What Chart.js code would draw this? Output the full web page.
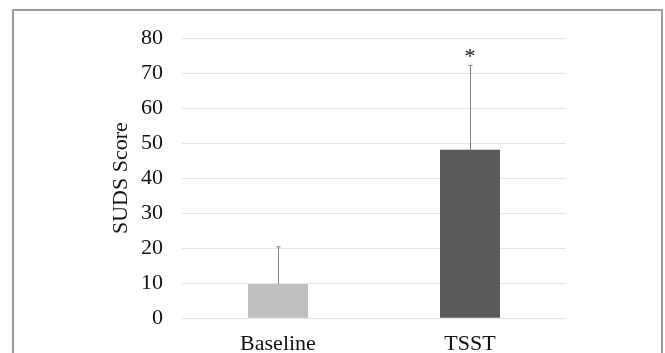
<!DOCTYPE html>
<html>
<head>
<meta charset="utf-8">
<script src="https://cdn.jsdelivr.net/npm/chart.js@4"></script>
<style>
  html, body { margin: 0; padding: 0; background: #fff; }
  #wrap { position: relative; width: 665px; height: 353px; }
  canvas { display: block; }
</style>
</head>
<body>
<div id="wrap"><canvas id="c" width="665" height="353"></canvas></div>
<script>
const categories = ["Baseline", "TSST"];
const meanScores = [9.8, 48.1];
const errorUpper = [10.6, 24.1];
const significance = ["", "*"];
const yTicks = [0, 10, 20, 30, 40, 50, 60, 70, 80];
const barColors = ["#bfbfbf", "#595959"];

const SERIF = "'Liberation Serif', 'Times New Roman', serif";

const framePlugin = {
  id: 'frame',
  beforeDraw(chart) {
    const ctx = chart.ctx;
    ctx.save();
    ctx.fillStyle = '#fff';
    ctx.fillRect(0, 0, chart.width, chart.height);
    ctx.strokeStyle = '#9a9a9a';
    ctx.lineWidth = 2;
    ctx.beginPath();
    ctx.moveTo(13, 360);
    ctx.lineTo(13, 10);
    ctx.lineTo(662, 10);
    ctx.lineTo(662, 360);
    ctx.stroke();
    ctx.restore();
  }
};

const errorPlugin = {
  id: 'errorbars',
  afterDatasetsDraw(chart) {
    const ctx = chart.ctx;
    const meta = chart.getDatasetMeta(0);
    const y = chart.scales.y;
    ctx.save();
    meta.data.forEach((bar, i) => {
      const x = Math.round(bar.x) + 0.5;
      const yTop = y.getPixelForValue(meanScores[i] + errorUpper[i]);
      const yBase = y.getPixelForValue(meanScores[i]);
      ctx.strokeStyle = '#808080';
      ctx.lineWidth = 1;
      ctx.beginPath();
      ctx.moveTo(x, yBase);
      ctx.lineTo(x, yTop);
      ctx.moveTo(x - 2, yTop);
      ctx.lineTo(x + 2, yTop);
      ctx.stroke();
      if (significance[i]) {
        ctx.fillStyle = '#111';
        ctx.font = '22px ' + SERIF;
        ctx.textAlign = 'center';
        ctx.textBaseline = 'middle';
        ctx.fillText(significance[i], bar.x, yTop - 8);
      }
    });
    ctx.restore();
  }
};

new Chart(document.getElementById('c'), {
  type: 'bar',
  data: {
    labels: categories,
    datasets: [{
      data: meanScores,
      backgroundColor: barColors,
      borderWidth: 0,
      barPercentage: 0.3125,
      categoryPercentage: 1.0
    }]
  },
  options: {
    responsive: false,
    animation: false,
    devicePixelRatio: 1,
    layout: { padding: { left: 0, right: 99, top: 38, bottom: 0 } },
    plugins: { legend: { display: false }, tooltip: { enabled: false } },
    scales: {
      x: {
        grid: { display: false, drawTicks: false },
        border: { display: false },
        ticks: { color: '#111', font: { family: SERIF, size: 22 }, padding: 13 },
        afterFit(scale) { scale.height = 34.7; }
      },
      y: {
        min: 0, max: 80,
        afterBuildTicks(scale) { scale.ticks = yTicks.map(v => ({ value: v })); },
        grid: { color: '#e4e4e4', lineWidth: 1, drawTicks: false },
        border: { display: false },
        ticks: { color: '#111', font: { family: SERIF, size: 22 }, padding: 19 },
        title: {
          display: true, text: 'SUDS Score', color: '#111',
          font: { family: SERIF, size: 22 },
          padding: { top: 108, bottom: 0 }
        },
        afterFit(scale) { scale.width = 182; }
      }
    }
  },
  plugins: [framePlugin, errorPlugin]
});
</script>
</body>
</html>
